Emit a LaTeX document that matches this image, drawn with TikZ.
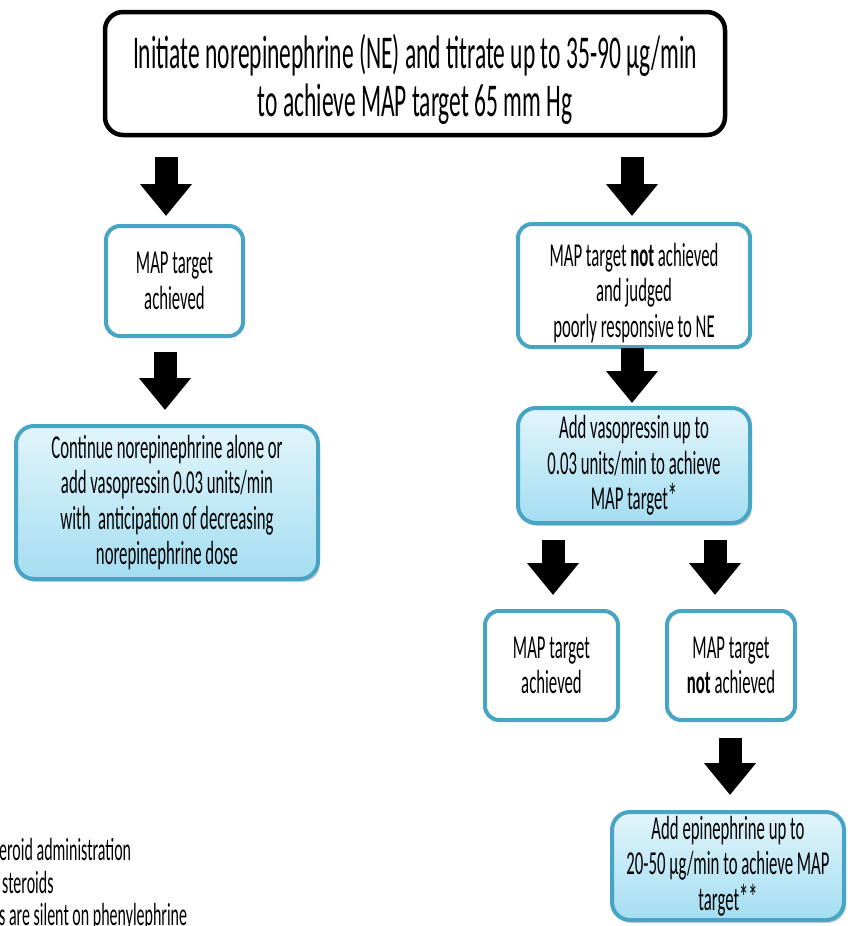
\documentclass[tikz,border=0pt]{standalone}
\usepackage{fontspec}
\setmainfont{Carlito}[FakeStretch=0.5]
\usetikzlibrary{arrows.meta,shadows}
\definecolor{tealb}{RGB}{70,165,196}
\definecolor{bluetop}{RGB}{226,245,251}
\definecolor{bluebot}{RGB}{163,221,241}
\newcommand{\astk}{{\fontsize{37}{35.5}\selectfont *}}
\begin{document}
\begin{tikzpicture}[x=1pt,y=-1pt,
  box/.style={draw=tealb, line width=4pt, rounded corners=14pt, fill=white, align=center, inner sep=0pt, font=\fontsize{33.5}{35.5}\selectfont},
  bluebox/.style={box, top color=bluetop, bottom color=bluebot, rounded corners=18pt, drop shadow={shadow xshift=2pt, shadow yshift=-3pt, opacity=0.3, fill=black!60}},
  barrow/.style={draw=black, line width=23pt, -{Triangle[length=32pt 0 0, width=50pt 0 0]}},
  note/.style={anchor=base west, inner sep=0pt, font=\fontsize{32}{33}\selectfont},
]
\useasboundingbox (0,0) rectangle (849,926);
\clip (0,0) rectangle (849,926);

\node[box, draw=black, line width=4.5pt, rounded corners=18pt, minimum width=620pt, minimum height=123pt, font=\fontsize{47}{48}\selectfont] (top) at (415,73.5) {\rule{0pt}{46pt}Initiate norepinephrine (NE) and titrate up to 35-90 µg/min\\to achieve MAP target 65 mm Hg};

\node[box, minimum width=137pt, minimum height=110pt] (b1) at (174.5,281) {MAP target\\achieved};
\node[box, minimum width=232pt, minimum height=123pt] (b2) at (634,285.5) {\rule{0pt}{38pt}MAP target \textbf{not} achieved\\and judged\\poorly responsive to NE};
\node[bluebox, minimum width=302pt, minimum height=153pt] (b3) at (167,502.5) {Continue norepinephrine alone or\\add vasopressin 0.03 units/min\\with\ \ anticipation of decreasing\\norepinephrine dose};
\node[bluebox, minimum width=232pt, minimum height=115pt] (b4) at (634,465.5) {Add vasopressin up to\\0.03 units/min to achieve\\MAP target\astk};
\node[box, minimum width=133pt, minimum height=109pt] (b5) at (551.5,665.5) {MAP target\\achieved};
\node[box, minimum width=128pt, minimum height=109pt] (b6) at (731,665.5) {MAP target\\\textbf{not} achieved};
\node[bluebox, minimum width=232pt, minimum height=108pt] (b7) at (728,866) {Add epinephrine up to\\20-50 µg/min to achieve MAP\\target\astk\astk};

\coordinate (a1s) at (166,157); \coordinate (a1e) at (166,216);
\coordinate (a2s) at (632,157); \coordinate (a2e) at (632,216);
\coordinate (a3s) at (165,352); \coordinate (a3e) at (165,410);
\coordinate (a4s) at (632,348); \coordinate (a4e) at (632,403);
\coordinate (a5s) at (553,540); \coordinate (a5e) at (553,595);
\coordinate (a6s) at (715,540); \coordinate (a6e) at (715,595);
\coordinate (a7s) at (730,738); \coordinate (a7e) at (730,795);
\foreach \i in {1,...,7} { \draw[barrow] (a\i s) -- (a\i e); }

\node[note] (n1) at (-1,860) {eroid administration};
\node[note] (n2) at (2,893) {steroids};
\node[note] (n3) at (-1,925) {s are silent on phenylephrine};
\end{tikzpicture}
\end{document}
